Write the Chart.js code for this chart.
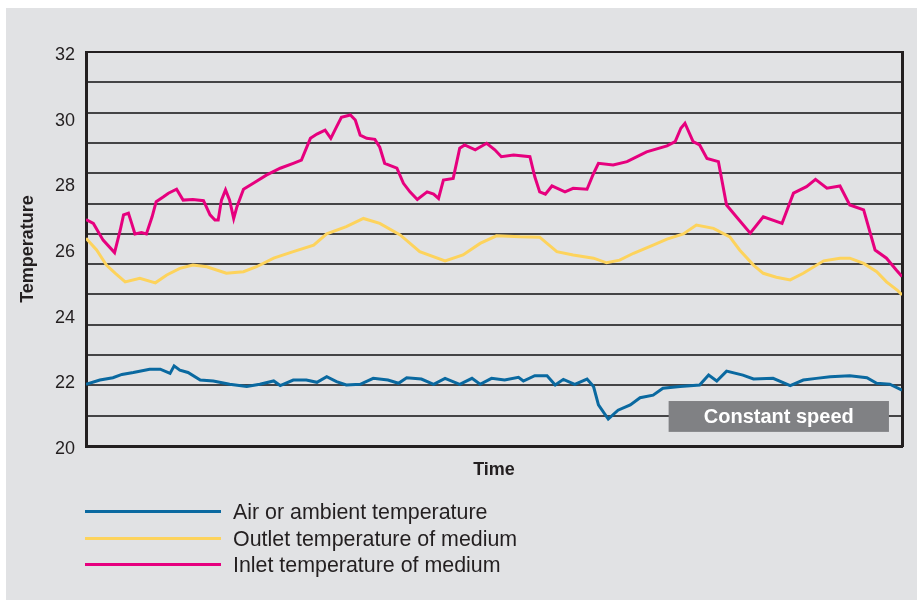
<!DOCTYPE html>
<html>
<head>
<meta charset="utf-8">
<title>Temperature over time</title>
<script src="https://cdn.jsdelivr.net/npm/chart.js@4.4.1/dist/chart.umd.min.js"></script>
<style>
  html, body { margin: 0; padding: 0; background: #fff; }
  #wrap { position: relative; width: 917px; height: 607px; overflow: hidden; }
  #panel { position: absolute; left: 6px; top: 8px; width: 911px; height: 592px; background: #e1e2e4; }
  #chart { position: absolute; left: 0; top: 0; }
  #legend {
    position: absolute; left: 85px; top: 499px;
    font-family: Arial, "Liberation Sans", sans-serif; font-size: 21.4px; color: #231f20;
  }
  .legend__item { display: flex; align-items: center; height: 26.7px; white-space: nowrap; }
  .legend__line { width: 136px; height: 3px; margin-right: 12px; position: relative; top: -1px; }
</style>
</head>
<body>
<div id="wrap">
  <div id="panel"></div>
  <canvas id="chart" width="917" height="607"></canvas>
  <div id="legend"></div>
</div>
<script>
// Time runs 0..100 (relative), temperatures in degrees
const airTime = [0, 1.7, 3.3, 4.4, 5.8, 7.8, 9.1, 10.3, 10.8, 11.5, 12.5, 14.0, 15.6, 17.6, 19.7, 21.3, 23.0, 23.8, 25.4, 27.0, 28.3, 29.5, 30.7, 31.9, 33.6, 35.2, 37.0, 38.3, 39.3, 41.1, 42.6, 44.0, 45.8, 47.3, 48.3, 49.7, 51.3, 53.0, 53.6, 55.0, 56.5, 57.5, 58.5, 59.9, 61.4, 62.2, 62.8, 64.0, 65.2, 66.7, 67.9, 69.5, 70.7, 72.8, 75.2, 76.3, 77.3, 78.5, 80.5, 81.8, 84.2, 86.3, 87.9, 89.5, 91.2, 93.6, 95.7, 96.9, 98.5, 100];
const airTemp = [21.88, 22.01, 22.08, 22.18, 22.24, 22.34, 22.34, 22.21, 22.44, 22.31, 22.24, 22.01, 21.98, 21.88, 21.81, 21.88, 21.98, 21.84, 22.01, 22.01, 21.94, 22.11, 21.96, 21.86, 21.88, 22.06, 22.01, 21.91, 22.08, 22.04, 21.88, 22.06, 21.88, 22.06, 21.88, 22.06, 22.01, 22.09, 21.98, 22.14, 22.14, 21.86, 22.03, 21.88, 22.04, 21.81, 21.25, 20.82, 21.09, 21.25, 21.47, 21.55, 21.76, 21.81, 21.86, 22.16, 21.98, 22.28, 22.16, 22.04, 22.06, 21.84, 22.01, 22.06, 22.11, 22.14, 22.08, 21.91, 21.88, 21.70];

const outletTime = [0, 1.3, 2.5, 3.6, 4.8, 6.6, 8.5, 9.9, 11.5, 13.1, 14.8, 17.2, 19.3, 20.9, 23.0, 25.4, 27.9, 29.5, 31.9, 34.0, 36.0, 38.5, 40.9, 44.0, 46.2, 48.3, 50.3, 53.2, 55.6, 57.7, 59.7, 62.2, 63.8, 65.4, 67.1, 69.5, 71.2, 73.2, 74.8, 76.9, 78.9, 80.1, 81.8, 83.0, 84.6, 86.3, 87.9, 90.4, 92.4, 93.6, 95.3, 96.9, 98.1, 99.4, 100];
const outletTemp = [26.33, 25.97, 25.51, 25.26, 25.00, 25.11, 24.97, 25.21, 25.41, 25.51, 25.46, 25.26, 25.31, 25.46, 25.72, 25.92, 26.12, 26.46, 26.68, 26.93, 26.78, 26.43, 25.92, 25.64, 25.82, 26.17, 26.40, 26.37, 26.36, 25.92, 25.82, 25.72, 25.58, 25.66, 25.87, 26.12, 26.30, 26.46, 26.73, 26.63, 26.37, 25.97, 25.51, 25.26, 25.14, 25.06, 25.26, 25.64, 25.72, 25.72, 25.56, 25.31, 25.00, 24.75, 24.60];

const inletTime = [0, 0.9, 2.1, 3.5, 4.2, 4.6, 5.2, 5.6, 6.0, 6.8, 7.4, 8.1, 8.6, 9.5, 10.1, 11.1, 11.9, 13.1, 14.4, 15.2, 15.8, 16.2, 16.6, 17.1, 17.6, 18.1, 18.5, 19.3, 20.5, 22.1, 23.8, 25.4, 26.4, 27.5, 28.3, 29.3, 30.0, 30.7, 31.3, 32.4, 33.0, 33.6, 34.4, 35.4, 36.0, 36.6, 38.1, 38.9, 39.7, 40.6, 41.8, 42.6, 43.2, 43.8, 45.0, 45.8, 46.4, 47.7, 49.1, 50.1, 50.9, 52.4, 54.4, 55.0, 55.6, 56.3, 57.1, 58.7, 59.7, 61.4, 62.2, 62.8, 64.6, 66.3, 68.7, 71.2, 72.2, 72.9, 73.4, 74.4, 75.2, 76.1, 77.5, 78.5, 79.7, 81.4, 83.0, 85.3, 86.7, 88.3, 89.4, 90.8, 92.4, 93.6, 95.3, 96.7, 98.1, 99.3, 100];
const inletTemp = [26.90, 26.78, 26.27, 25.89, 26.58, 27.04, 27.09, 26.78, 26.46, 26.50, 26.46, 26.98, 27.44, 27.59, 27.70, 27.82, 27.49, 27.51, 27.47, 27.04, 26.88, 26.88, 27.49, 27.80, 27.49, 26.93, 27.29, 27.82, 28.00, 28.25, 28.46, 28.61, 28.71, 29.37, 29.50, 29.62, 29.37, 29.72, 30.01, 30.08, 29.93, 29.47, 29.37, 29.34, 29.10, 28.61, 28.46, 28.00, 27.74, 27.51, 27.74, 27.67, 27.54, 28.10, 28.15, 29.07, 29.17, 29.02, 29.22, 29.02, 28.81, 28.86, 28.81, 28.20, 27.74, 27.67, 27.92, 27.74, 27.85, 27.82, 28.30, 28.61, 28.56, 28.66, 28.96, 29.14, 29.27, 29.68, 29.83, 29.27, 29.17, 28.76, 28.66, 27.34, 26.98, 26.48, 26.98, 26.78, 27.70, 27.90, 28.12, 27.85, 27.92, 27.34, 27.19, 25.97, 25.72, 25.36, 25.16];

const seriesNames = ["Air or ambient temperature", "Outlet temperature of medium", "Inlet temperature of medium"];
const seriesColors = ["#0a69a0", "#fdd35c", "#e6007e"];
const yTicks = [20, 22, 24, 26, 28, 30, 32];
const ruleCount = 13;

const ink = "#231f20";
Chart.defaults.font.family = 'Arial, "Liberation Sans", sans-serif';

function toPoints(times, temps) {
  return times.map((t, i) => ({ x: t, y: temps[i] }));
}

// grey label box sitting on the plot
const noteBox = {
  id: "noteBox",
  afterDatasetsDraw(chart, args, opts) {
    const { ctx, scales: { x, y } } = chart;
    const left = x.getPixelForValue(opts.from);
    const right = x.getPixelForValue(opts.to);
    const top = y.getPixelForValue(opts.top);
    const bottom = y.getPixelForValue(opts.bottom);
    ctx.save();
    ctx.fillStyle = opts.color;
    ctx.fillRect(left, top, right - left, bottom - top);
    ctx.font = 'bold 20px Arial, "Liberation Sans", sans-serif';
    ctx.fillStyle = "#fff";
    ctx.textAlign = "center";
    ctx.textBaseline = "middle";
    ctx.fillText(opts.text, (left + right) / 2, (top + bottom) / 2 + 1);
    ctx.restore();
  },
};

const chart = new Chart(document.getElementById("chart"), {
  type: "line",
  data: {
    datasets: [
      { label: seriesNames[0], data: toPoints(airTime, airTemp), borderColor: seriesColors[0] },
      { label: seriesNames[1], data: toPoints(outletTime, outletTemp), borderColor: seriesColors[1] },
      { label: seriesNames[2], data: toPoints(inletTime, inletTemp), borderColor: seriesColors[2] },
    ],
  },
  options: {
    responsive: false,
    animation: false,
    devicePixelRatio: 1,
    layout: { padding: { left: 0, top: 52, right: 15, bottom: 121 } },
    elements: {
      line: { borderWidth: 3, tension: 0, fill: false },
      point: { radius: 0 },
    },
    scales: {
      x: {
        type: "linear",
        min: 0,
        max: 100,
        afterFit: (axis) => { axis.height = 40; },
        ticks: { display: false },
        grid: { color: "transparent", drawTicks: false },
        border: { color: ink, width: 3 },
        title: {
          display: true,
          text: "Time",
          color: ink,
          font: { size: 18, weight: "bold" },
          padding: { top: 0, bottom: 5 },
        },
      },
      y: {
        min: 20,
        max: 32,
        afterFit: (axis) => { axis.width = 86; },
        afterBuildTicks: (axis) => { axis.ticks = yTicks.map((v) => ({ value: v })); },
        ticks: { color: ink, font: { size: 18 }, padding: 11, labelOffset: 3 },
        grid: { color: "transparent", drawTicks: false },
        border: { color: ink, width: 3 },
        title: {
          display: true,
          text: "Temperature",
          color: ink,
          font: { size: 18, weight: "bold" },
          padding: { top: 17, bottom: 0 },
        },
      },
      // evenly spaced rule lines across the plot, plus the right frame edge
      rules: {
        position: "right",
        min: 0,
        max: ruleCount,
        afterFit: (axis) => { axis.width = 0; },
        ticks: { display: false, stepSize: 1 },
        grid: {
          color: (c) => (c.tick && c.tick.value === ruleCount ? ink : "#444446"),
          lineWidth: 2,
          drawTicks: false,
        },
        border: { color: ink, width: 3 },
      },
    },
    plugins: {
      legend: { display: false },
      tooltip: { enabled: false },
      noteBox: { text: "Constant speed", from: 71.4, to: 98.4, top: 21.37, bottom: 20.43, color: "#808184" },
    },
  },
  plugins: [noteBox],
});

// legend rows built from the datasets
const legend = document.getElementById("legend");
chart.data.datasets.forEach((ds) => {
  const row = document.createElement("div");
  row.className = "legend__item";
  const line = document.createElement("span");
  line.className = "legend__line";
  line.style.background = ds.borderColor;
  const label = document.createElement("span");
  label.textContent = ds.label;
  row.appendChild(line);
  row.appendChild(label);
  legend.appendChild(row);
});
</script>
</body>
</html>
